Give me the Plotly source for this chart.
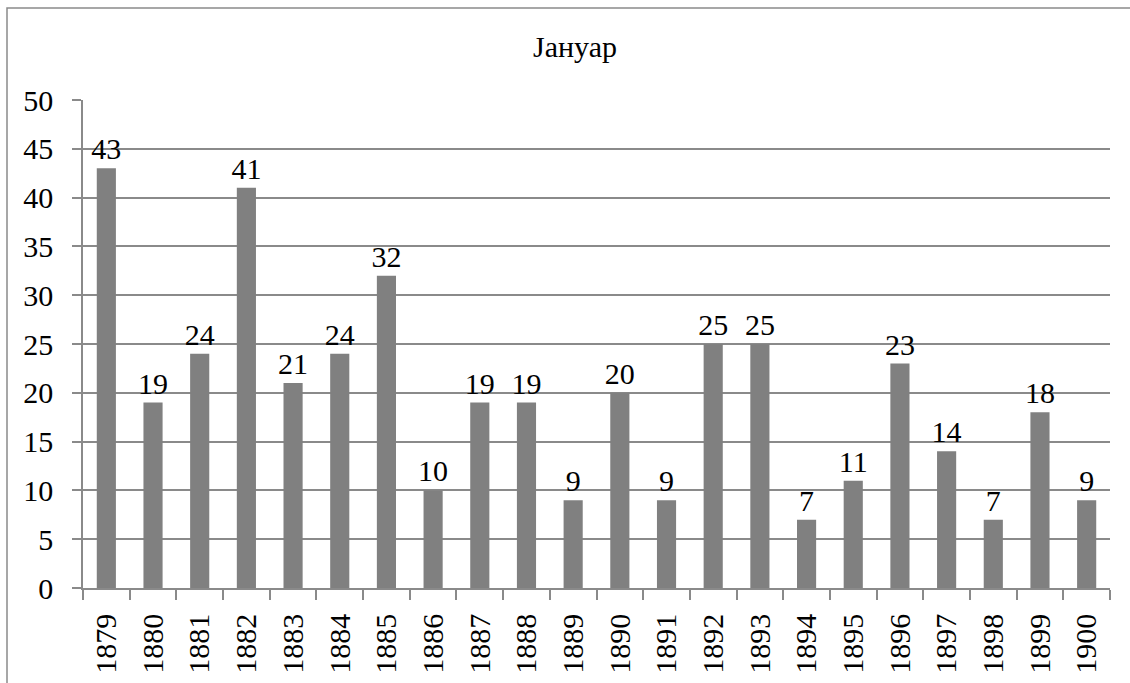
import plotly.graph_objects as go

years = ["1879", "1880", "1881", "1882", "1883", "1884", "1885", "1886", "1887", "1888",
         "1889", "1890", "1891", "1892", "1893", "1894", "1895", "1896", "1897", "1898",
         "1899", "1900"]
values = [43, 19, 24, 41, 21, 24, 32, 10, 19, 19, 9, 20, 9, 25, 25, 7, 11, 23, 14, 7, 18, 9]
title_text = "Јануар"
y_ticks = [0, 5, 10, 15, 20, 25, 30, 35, 40, 45, 50]

FONT = "Times New Roman"
GRID = "#8a8a8a"
FS = 30

fig = go.Figure(
    go.Bar(
        x=years,
        y=values,
        marker=dict(color="#808080", line=dict(width=0)),
        text=[str(v) for v in values],
        textposition="outside",
        constraintext="none",
        textfont=dict(family=FONT, size=FS, color="black"),
        cliponaxis=False,
        hoverinfo="skip",
    )
)

fig.update_layout(
    width=1130,
    height=683,
    margin=dict(l=83, r=20, t=100, b=95, autoexpand=False),
    paper_bgcolor="white",
    plot_bgcolor="white",
    bargap=0.59,
    showlegend=False,
    font=dict(family=FONT, size=FS, color="black"),
    title=dict(
        text=title_text,
        x=575 / 1130,
        xanchor="center",
        xref="container",
        y=1 - 46.5 / 683,
        yanchor="middle",
        yref="container",
        font=dict(family=FONT, size=FS, color="black"),
    ),
)

fig.update_xaxes(
    type="category",
    automargin=False,
    tickangle=-90,
    tickson="boundaries",
    ticks="outside",
    ticklen=10,
    tickwidth=1.5,
    tickcolor=GRID,
    showline=True,
    linecolor=GRID,
    linewidth=1.5,
    showgrid=False,
    tickfont=dict(family=FONT, size=FS, color="black"),
    ticklabelstandoff=12,
)

fig.update_yaxes(
    automargin=False,
    range=[0, 50],
    tickvals=y_ticks,
    ticks="outside",
    ticklen=9,
    tickwidth=1.5,
    tickcolor=GRID,
    showline=True,
    linecolor=GRID,
    linewidth=1.5,
    showgrid=True,
    gridcolor=GRID,
    gridwidth=1.5,
    zeroline=False,
    tickfont=dict(family=FONT, size=FS, color="black"),
    ticklabelstandoff=13,
)

# outer chart border
fig.add_shape(
    type="rect",
    xref="paper", yref="paper",
    x0=(7 - 83) / 1027, x1=(1140 - 83) / 1027,
    y0=(588 - 700) / 488, y1=(588 - 8) / 488,
    line=dict(color=GRID, width=1.5),
    fillcolor="rgba(0,0,0,0)",
    layer="below",
)

fig.write_html(
    "out.html",
    config={"displayModeBar": False},
    post_script="document.body.style.margin='0px';",
)
